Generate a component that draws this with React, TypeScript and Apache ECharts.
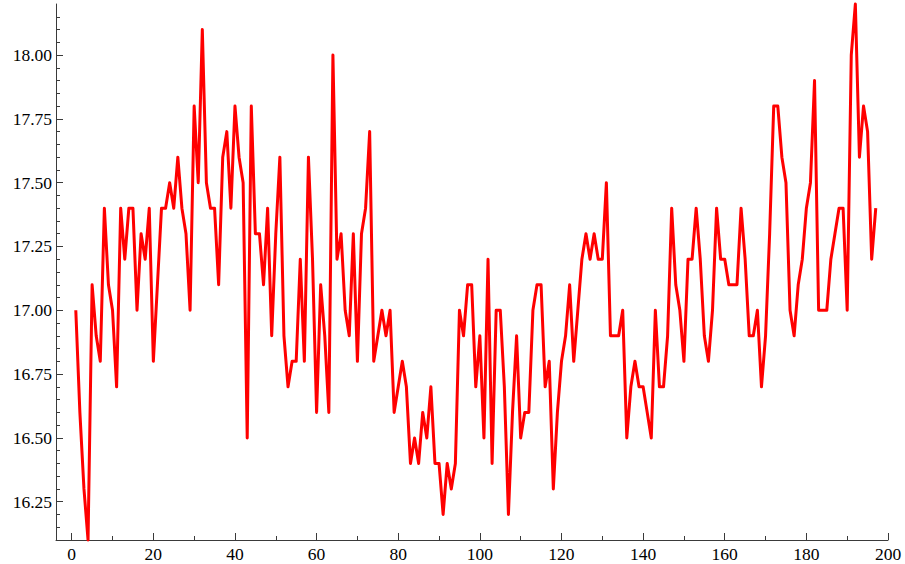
import React, { useEffect, useRef } from "react";
import * as echarts from "echarts";

// Chemical process readings, observations 1..197
const readings: number[] = [
  17.0, 16.6, 16.3, 16.1, 17.1, 16.9, 16.8, 17.4, 17.1, 17.0,
  16.7, 17.4, 17.2, 17.4, 17.4, 17.0, 17.3, 17.2, 17.4, 16.8,
  17.1, 17.4, 17.4, 17.5, 17.4, 17.6, 17.4, 17.3, 17.0, 17.8,
  17.5, 18.1, 17.5, 17.4, 17.4, 17.1, 17.6, 17.7, 17.4, 17.8,
  17.6, 17.5, 16.5, 17.8, 17.3, 17.3, 17.1, 17.4, 16.9, 17.3,
  17.6, 16.9, 16.7, 16.8, 16.8, 17.2, 16.8, 17.6, 17.2, 16.6,
  17.1, 16.9, 16.6, 18.0, 17.2, 17.3, 17.0, 16.9, 17.3, 16.8,
  17.3, 17.4, 17.7, 16.8, 16.9, 17.0, 16.9, 17.0, 16.6, 16.7,
  16.8, 16.7, 16.4, 16.5, 16.4, 16.6, 16.5, 16.7, 16.4, 16.4,
  16.2, 16.4, 16.3, 16.4, 17.0, 16.9, 17.1, 17.1, 16.7, 16.9,
  16.5, 17.2, 16.4, 17.0, 17.0, 16.7, 16.2, 16.6, 16.9, 16.5,
  16.6, 16.6, 17.0, 17.1, 17.1, 16.7, 16.8, 16.3, 16.6, 16.8,
  16.9, 17.1, 16.8, 17.0, 17.2, 17.3, 17.2, 17.3, 17.2, 17.2,
  17.5, 16.9, 16.9, 16.9, 17.0, 16.5, 16.7, 16.8, 16.7, 16.7,
  16.6, 16.5, 17.0, 16.7, 16.7, 16.9, 17.4, 17.1, 17.0, 16.8,
  17.2, 17.2, 17.4, 17.2, 16.9, 16.8, 17.0, 17.4, 17.2, 17.2,
  17.1, 17.1, 17.1, 17.4, 17.2, 16.9, 16.9, 17.0, 16.7, 16.9,
  17.3, 17.8, 17.8, 17.6, 17.5, 17.0, 16.9, 17.1, 17.2, 17.4,
  17.5, 17.9, 17.0, 17.0, 17.0, 17.2, 17.3, 17.4, 17.4, 17.0,
  18.0, 18.2, 17.6, 17.8, 17.7, 17.2, 17.4,
];

const xMajorTicks: number[] = [0, 20, 40, 60, 80, 100, 120, 140, 160, 180, 200];
const xMinorTicks: number[] = [10, 30, 50, 70, 90, 110, 130, 150, 170, 190];
const yMajorTicks: number[] = [16.25, 16.5, 16.75, 17.0, 17.25, 17.5, 17.75, 18.0];
const yMinorTicks: number[] = [
  16.15, 16.2, 16.3, 16.35, 16.4, 16.45, 16.55, 16.6, 16.65, 16.7,
  16.8, 16.85, 16.9, 16.95, 17.05, 17.1, 17.15, 17.2, 17.3, 17.35,
  17.4, 17.45, 17.55, 17.6, 17.65, 17.7, 17.8, 17.85, 17.9, 17.95,
  18.05, 18.1, 18.15,
];

const X_MIN = -3.85;
const X_MAX = 200;
const Y_MIN = 16.1;
const Y_MAX = 18.2;

const AXIS_COLOR = "#3a3a3a";
const FONT = "'Liberation Serif', 'Times New Roman', serif";

export default function App() {
  const ref = useRef<HTMLDivElement>(null);

  useEffect(() => {
    if (!ref.current) return;
    const chart = echarts.init(ref.current, undefined, { renderer: "svg" });
    const seriesData = readings.map((v, i) => [i + 1, v]);

    chart.setOption({
      animation: false,
      backgroundColor: "#ffffff",
      grid: { left: 56, right: 17, top: 4, bottom: 24, containLabel: false },
      xAxis: [
        {
          type: "value",
          min: X_MIN,
          max: X_MAX,
          position: "bottom",
          axisLine: { show: true, onZero: false, lineStyle: { color: AXIS_COLOR, width: 1 } },
          axisTick: {
            show: true,
            inside: true,
            length: 7,
            customValues: xMajorTicks,
            lineStyle: { color: AXIS_COLOR, width: 1 },
          },
          axisLabel: {
            show: true,
            customValues: xMajorTicks,
            margin: 5,
            color: "#000",
            fontFamily: FONT,
            fontSize: 17.5,
            formatter: (v: number) => String(Math.round(v)),
          },
          splitLine: { show: false },
        },
        {
          type: "value",
          min: X_MIN,
          max: X_MAX,
          position: "bottom",
          axisLine: { show: false, onZero: false },
          axisTick: {
            show: true,
            inside: true,
            length: 4,
            customValues: xMinorTicks,
            lineStyle: { color: AXIS_COLOR, width: 1 },
          },
          axisLabel: { show: false },
          splitLine: { show: false },
        },
      ],
      yAxis: [
        {
          type: "value",
          min: Y_MIN,
          max: Y_MAX,
          position: "left",
          axisLine: { show: true, onZero: false, lineStyle: { color: AXIS_COLOR, width: 1 } },
          axisTick: {
            show: true,
            inside: true,
            length: 7,
            customValues: yMajorTicks,
            lineStyle: { color: AXIS_COLOR, width: 1 },
          },
          axisLabel: {
            show: true,
            customValues: yMajorTicks,
            margin: 4,
            color: "#000",
            fontFamily: FONT,
            fontSize: 17.5,
            formatter: (v: number) => v.toFixed(2),
          },
          splitLine: { show: false },
        },
        {
          type: "value",
          min: Y_MIN,
          max: Y_MAX,
          position: "left",
          axisLine: { show: false, onZero: false },
          axisTick: {
            show: true,
            inside: true,
            length: 4,
            customValues: yMinorTicks,
            lineStyle: { color: AXIS_COLOR, width: 1 },
          },
          axisLabel: { show: false },
          splitLine: { show: false },
        },
      ],
      series: [
        {
          type: "line",
          xAxisIndex: 0,
          yAxisIndex: 0,
          data: seriesData,
          showSymbol: false,
          symbol: "none",
          clip: false,
          lineStyle: { color: "#ff0000", width: 3, join: "round" },
        },
      ],
    });

    return () => {
      chart.dispose();
    };
  }, []);

  return (
    <div
      ref={ref}
      style={{ position: "fixed", left: 0, top: 0, width: 905, height: 564, background: "#fff" }}
    />
  );
}
